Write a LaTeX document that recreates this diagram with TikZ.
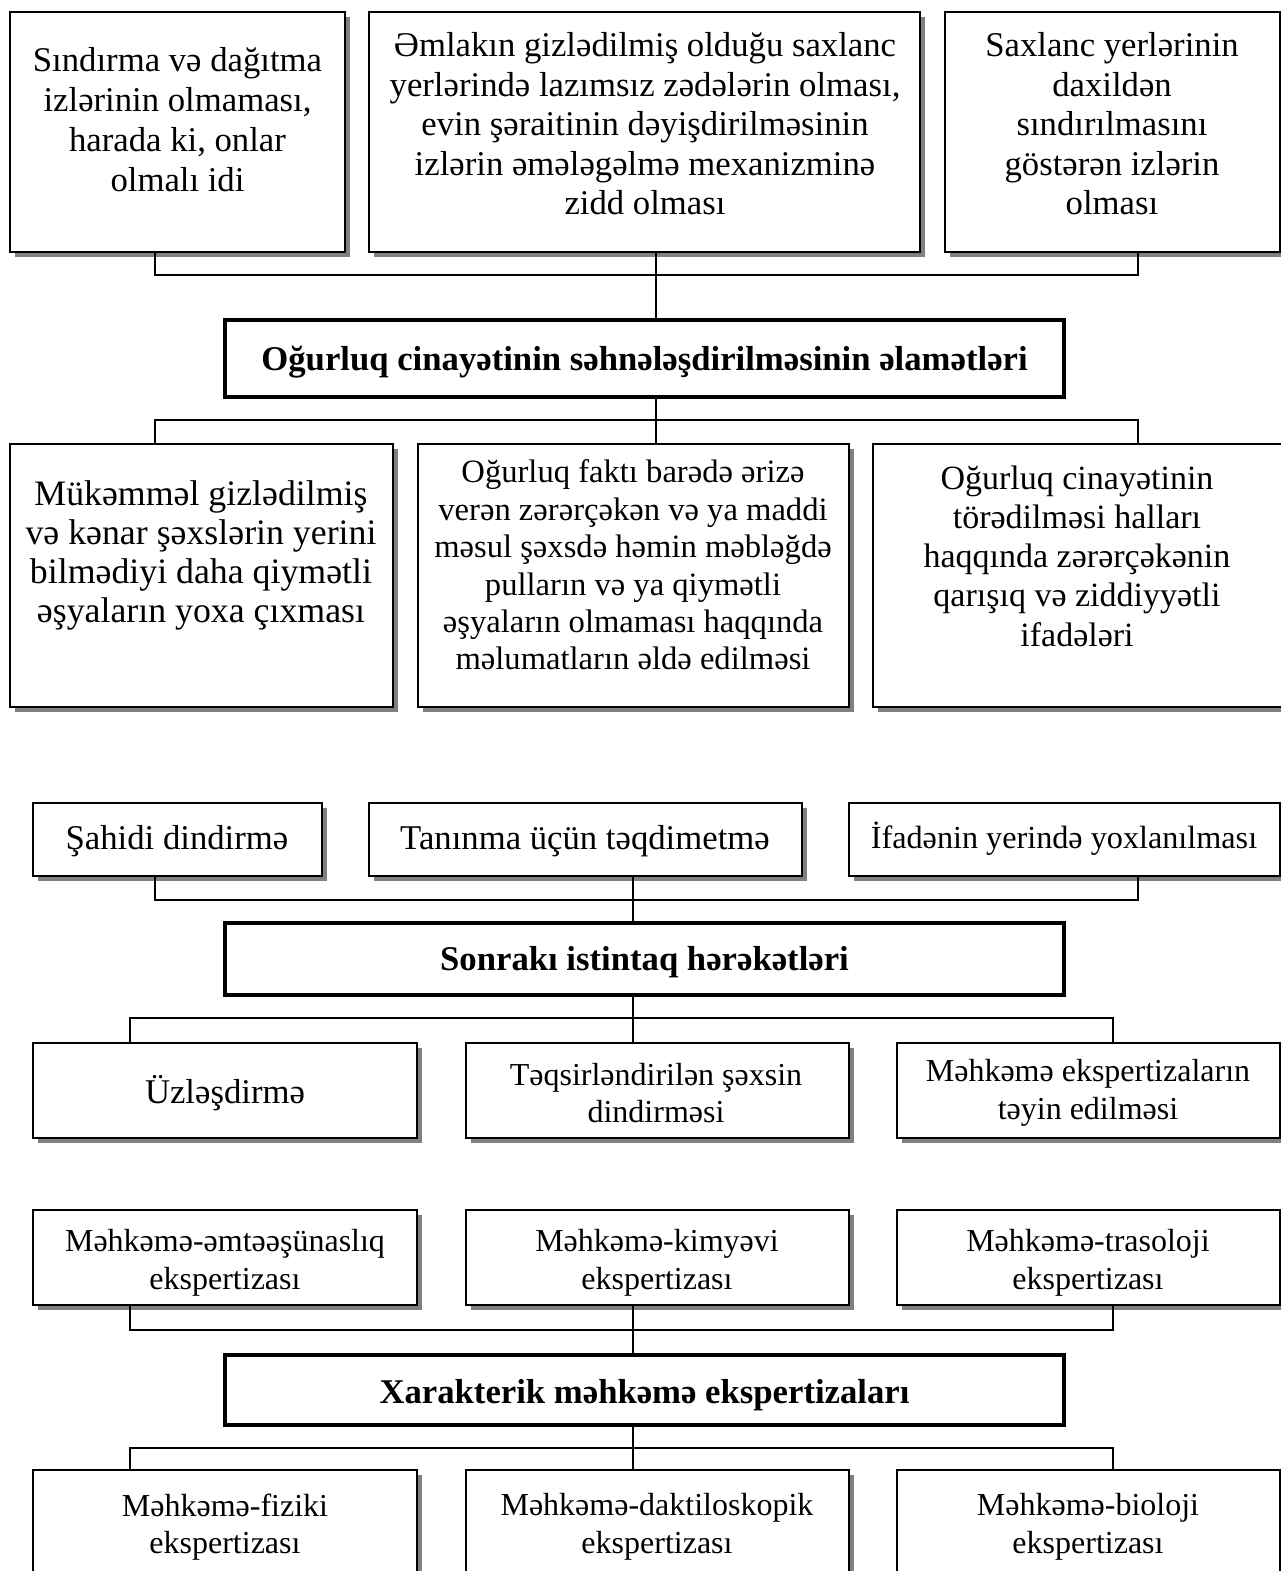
\documentclass[tikz,border=0pt]{standalone}
\usepackage{fontspec}
\setmainfont{Liberation Serif}
\usetikzlibrary{fit,shadows}
\begin{document}
\begin{tikzpicture}[x=1pt,y=-1pt,
  box/.style={draw, line width=1.6pt, fill=white, inner sep=0pt,
    drop shadow={shadow xshift=5pt, shadow yshift=-5pt, fill=black!50, opacity=1}},
  mainbox/.style={draw, line width=3.6pt, fill=white, inner sep=0pt},
  conn/.style={line width=2.2pt},
  tbig/.style={font=\fontsize{34.7}{40}\selectfont, align=center, inner sep=0pt},
  tmid/.style={font=\fontsize{34.7}{38}\selectfont, align=center, inner sep=0pt},
  tsm/.style={font=\fontsize{32}{37.5}\selectfont, align=center, inner sep=0pt},
  tbold/.style={font=\fontsize{34.7}{38}\selectfont\bfseries, align=center, inner sep=0pt}]
\useasboundingbox (0,0) rectangle (1280,1571);

% ---------- section 1 ----------
\node[box, fit={(10,12) (345,252)}] (a1) {};
\node[box, fit={(369,12) (920,252)}] (a2) {};
\node[box, fit={(945,12) (1280,252)}] (a3) {};
\node[tbig] (a1t) at (177.5,120) {Sındırma və dağıtma\\izlərinin olmaması,\\harada ki, onlar\\olmalı idi};
\node[tbig, font=\fontsize{34.7}{39.5}\selectfont] (a2t) at (645,124) {Əmlakın gizlədilmiş olduğu saxlanc\\yerlərində lazımsız zədələrin olması,\\evin şəraitinin dəyişdirilməsinin\\izlərin əmələgəlmə mexanizminə\\zidd olması};
\node[tbig, font=\fontsize{34.7}{39.5}\selectfont] (a3t) at (1112,124) {Saxlanc yerlərinin\\daxildən\\sındırılmasını\\göstərən izlərin\\olması};

\node[mainbox, fit={(225,320) (1064,397)}] (m1) {};
\node[tbold] (m1t) at (644.5,362) {Oğurluq cinayətinin səhnələşdirilməsinin əlamətləri};

\node[box, fit={(10,444) (393,707)}] (b1) {};
\node[box, fit={(418,444) (849,707)}] (b2) {};
\node[box, fit={(873,444) (1283,707)}] (b3) {};
\node[tbig, font=\fontsize{35.8}{39}\selectfont] (b1t) at (201,555) {Mükəmməl gizlədilmiş\\və kənar şəxslərin yerini\\bilmədiyi daha qiymətli\\əşyaların yoxa çıxması};
\node[tmid, font=\fontsize{32.6}{37.4}\selectfont] (b2t) at (633,565) {Oğurluq faktı barədə ərizə\\verən zərərçəkən və ya maddi\\məsul şəxsdə həmin məbləğdə\\pulların və ya qiymətli\\əşyaların olmaması haqqında\\məlumatların əldə edilməsi};
\node[tbig, font=\fontsize{34}{39.3}\selectfont] (b3t) at (1077,556) {Oğurluq cinayətinin\\törədilməsi halları\\haqqında zərərçəkənin\\qarışıq və ziddiyyətli\\ifadələri};

\coordinate (p1) at (155,275);
\coordinate (p2) at (1138,275);
\coordinate (v1) at (656,0);
\draw[conn] (a1.south -| p1) -- (p1) -- (p2) -- (a3.south -| p2);
\draw[conn] (a2.south -| v1) -- (m1.north -| v1);
\coordinate (q1) at (155,420);
\coordinate (q2) at (1138,420);
\draw[conn] (b1.north -| q1) -- (q1) -- (q2) -- (b3.north -| q2);
\draw[conn] (m1.south -| v1) -- (b2.north -| v1);

% ---------- section 2 ----------
\node[box, fit={(33,803) (322,876)}] (c1) {};
\node[box, fit={(369,803) (802,876)}] (c2) {};
\node[box, fit={(849,803) (1280,876)}] (c3) {};
\node[tmid] (c1t) at (177,841) {Şahidi dindirmə};
\node[tmid] (c2t) at (585,841) {Tanınma üçün təqdimetmə};
\node[tmid, font=\fontsize{32.2}{38}\selectfont] (c3t) at (1064,839) {İfadənin yerində yoxlanılması};

\node[mainbox, fit={(225,923) (1064,995)}] (m2) {};
\node[tbold] (m2t) at (644.5,962) {Sonrakı istintaq hərəkətləri};

\node[box, fit={(33,1043) (417,1138)}] (d1) {};
\node[box, fit={(466,1043) (849,1138)}] (d2) {};
\node[box, fit={(897,1043) (1280,1138)}] (d3) {};
\node[tmid] (d1t) at (225,1093) {Üzləşdirmə};
\node[tsm] (d2t) at (656,1093) {Təqsirləndirilən şəxsin\\dindirməsi};
\node[tsm] (d3t) at (1088,1093) {Məhkəmə ekspertizaların\\təyin edilməsi};

\coordinate (r1) at (155,900);
\coordinate (r2) at (1138,900);
\coordinate (v2) at (633,0);
\draw[conn] (c1.south -| r1) -- (r1) -- (r2) -- (c3.south -| r2);
\draw[conn] (c2.south -| v2) -- (m2.north -| v2);
\coordinate (s1) at (130,1018);
\coordinate (s2) at (1113,1018);
\draw[conn] (d1.north -| s1) -- (s1) -- (s2) -- (d3.north -| s2);
\draw[conn] (m2.south -| v2) -- (d2.north -| v2);

% ---------- section 3 ----------
\node[box, fit={(33,1210) (417,1305)}] (e1) {};
\node[box, fit={(466,1210) (849,1305)}] (e2) {};
\node[box, fit={(897,1210) (1280,1305)}] (e3) {};
\node[tsm] (e1t) at (225,1263) {Məhkəmə-əmtəəşünaslıq\\ekspertizası};
\node[tsm] (e2t) at (657,1263) {Məhkəmə-kimyəvi\\ekspertizası};
\node[tsm] (e3t) at (1088,1263) {Məhkəmə-trasoloji\\ekspertizası};

\node[mainbox, fit={(225,1355) (1064,1425)}] (m3) {};
\node[tbold] (m3t) at (644.5,1395) {Xarakterik məhkəmə ekspertizaları};

\node[box, fit={(33,1470) (417,1610)}] (f1) {};
\node[box, fit={(466,1470) (849,1610)}] (f2) {};
\node[box, fit={(897,1470) (1280,1610)}] (f3) {};
\node[tsm] (f1t) at (225,1527) {Məhkəmə-fiziki\\ekspertizası};
\node[tsm] (f2t) at (657,1527) {Məhkəmə-daktiloskopik\\ekspertizası};
\node[tsm] (f3t) at (1088,1527) {Məhkəmə-bioloji\\ekspertizası};

\coordinate (u1) at (130,1330);
\coordinate (u2) at (1113,1330);
\draw[conn] (e1.south -| u1) -- (u1) -- (u2) -- (e3.south -| u2);
\draw[conn] (e2.south -| v2) -- (m3.north -| v2);
\coordinate (w1) at (130,1448);
\coordinate (w2) at (1113,1448);
\draw[conn] (f1.north -| w1) -- (w1) -- (w2) -- (f3.north -| w2);
\draw[conn] (m3.south -| v2) -- (f2.north -| v2);
\end{tikzpicture}
\end{document}
